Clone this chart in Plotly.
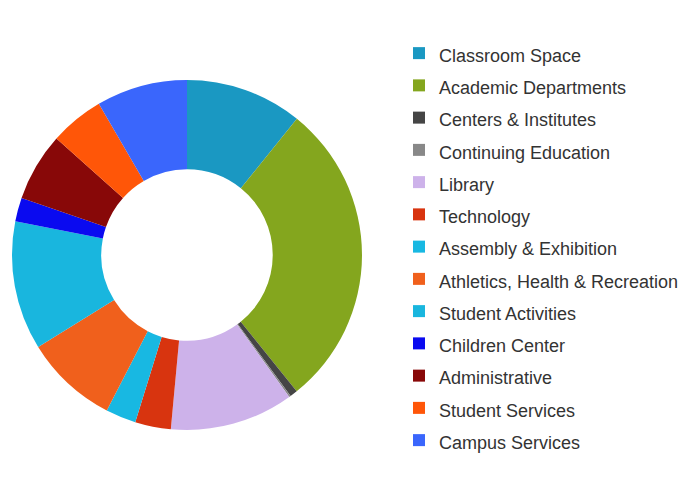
import plotly.graph_objects as go

categories = [
    "Classroom Space", "Academic Departments", "Centers & Institutes",
    "Continuing Education", "Library", "Technology", "Assembly & Exhibition",
    "Athletics, Health & Recreation", "Student Activities", "Children Center",
    "Administrative", "Student Services", "Campus Services",
]
shares = [10.8, 28.4, 0.7, 0.15, 11.4, 3.3, 2.8, 8.6, 11.9, 2.2, 6.3, 5.0, 8.4]
colors = [
    "#1a98c2", "#84a61e", "#454545", "#888888", "#cdb2ea", "#d8340f",
    "#18b8e2", "#f0601c", "#19b6de", "#0a0af0", "#880808", "#ff5608", "#3a66fc",
]

display_labels = ['<span style="font-size:18px">%s</span>' % c for c in categories]

W, H = 693, 485
cx, cy, r = 187, 255, 175

fig = go.Figure(go.Pie(
    labels=display_labels,
    values=shares,
    marker=dict(colors=colors, line=dict(width=0)),
    hole=0.49,
    sort=False,
    direction="clockwise",
    rotation=0,
    textinfo="none",
    hoverinfo="label+percent",
    domain=dict(x=[(cx - r) / W, (cx + r) / W], y=[(H - cy - r) / H, (H - cy + r) / H]),
))

fig.update_layout(
    width=W, height=H,
    margin=dict(l=0, r=0, t=0, b=0),
    paper_bgcolor="white",
    plot_bgcolor="white",
    showlegend=True,
    legend=dict(
        x=399 / W, y=1 - 32 / H, xanchor="left", yanchor="top",
        font=dict(family="Liberation Sans, Arial, sans-serif", size=22.5, color="#333333"),
        bgcolor="rgba(0,0,0,0)",
        borderwidth=0,
        traceorder="normal",
    ),
)

fig.write_html("out.html", config={"displayModeBar": False},
               post_script="document.body.style.margin='0';")
